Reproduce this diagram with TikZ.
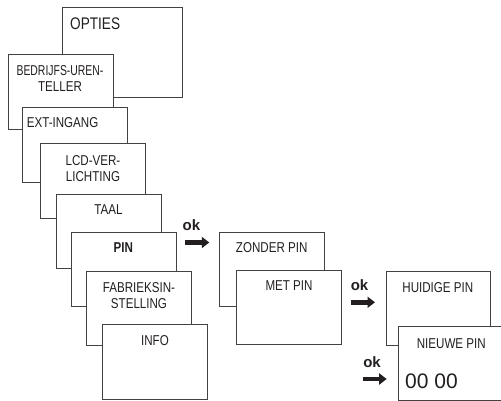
\documentclass[tikz,border=0pt]{standalone}
\usepackage{fontspec}
\setmainfont[FakeStretch=0.81]{Liberation Sans}
\newfontfamily\plainfont{Liberation Sans}
\usetikzlibrary{arrows.meta}
\definecolor{ink}{HTML}{231F20}
\tikzset{
  box/.style={draw=ink!85, line width=0.9pt, fill=white, minimum width=105pt, minimum height=74.5pt, inner sep=0pt},
  lbl/.style={text=ink, inner sep=0pt, font=\fontsize{14.3}{16}\selectfont, align=center},
  oklbl/.style={text=ink, inner sep=0pt, font=\plainfont\bfseries\fontsize{15}{16}\selectfont},
  fatarrow/.style={ink, line width=4.9pt, -{Triangle[length=7.5pt,width=11pt]}, shorten >=0pt}
}
\begin{document}
\begin{tikzpicture}[x=1pt,y=-1pt]
\useasboundingbox (0,0) rectangle (501,400);
% left column
\node[box, minimum width=120pt, minimum height=90pt] (opties) at (122.7,52.3) {};
\node[lbl, font=\fontsize{16.8}{18}\selectfont, anchor=west] (topties) at (70,23.3) {OPTIES};
\node[box] (bedr) at (60.65,92.15) {};
\node[lbl] (tbedr) at (60,79) {\scalebox{0.9}[1]{BEDRIJFS-UREN-}\\TELLER};
\node[box] (ext) at (75.35,144.8) {};
\node[lbl, anchor=west] (text) at (26.7,122.3) {EXT-INGANG};
\node[box] (lcd) at (93.35,180.85) {};
\node[lbl] (tlcd) at (93,168.5) {LCD-VER-\\LICHTING};
\node[box] (taal) at (108.65,231.35) {};
\node[lbl] (ttaal) at (108.5,209.7) {TAAL};
\node[box] (pin) at (124,269.2) {};
\node[lbl, font=\bfseries\fontsize{14.3}{16}\selectfont] (tpin) at (123.3,247.2) {PIN};
\node[box] (fabr) at (139.2,308.35) {};
\node[lbl] (tfabr) at (139,295.5) {FABRIEKSIN-\\STELLING};
\node[box] (info) at (154.8,362) {};
\node[lbl] (tinfo) at (155,340.5) {INFO};
% middle column
\node[box] (zonder) at (271.8,269.65) {};
\node[lbl] (tzonder) at (271.7,247.7) {ZONDER PIN};
\node[box] (met) at (289,307.35) {};
\node[lbl] (tmet) at (289,285.2) {MET PIN};
% right column
\node[box, minimum width=104pt] (huidig) at (438,308.5) {};
\node[lbl] (thuidig) at (437.8,287.3) {HUIDIGE PIN};
\node[box] (nieuw) at (450.8,363.5) {};
\node[lbl] (tnieuw) at (451.3,343.3) {NIEUWE PIN};
\node[text=ink, inner sep=0pt, font=\plainfont\fontsize{21}{23}\selectfont] (code) at (431.5,380.8) {00 00};
% ok arrows
\node[oklbl] (ok1) at (191.5,225) {ok};
\coordinate (a1s) at (185,242.5);
\coordinate (a1e) at (209.3,242.5);
\draw[fatarrow] (a1s) -- (a1e);
\node[oklbl] (ok2) at (359.5,285.3) {ok};
\coordinate (a2s) at (351,302.3);
\coordinate (a2e) at (375,302.3);
\draw[fatarrow] (a2s) -- (a2e);
\node[oklbl] (ok3) at (372,361.7) {ok};
\coordinate (a3s) at (363.3,379);
\coordinate (a3e) at (386.7,379);
\draw[fatarrow] (a3s) -- (a3e);
\end{tikzpicture}
\end{document}
